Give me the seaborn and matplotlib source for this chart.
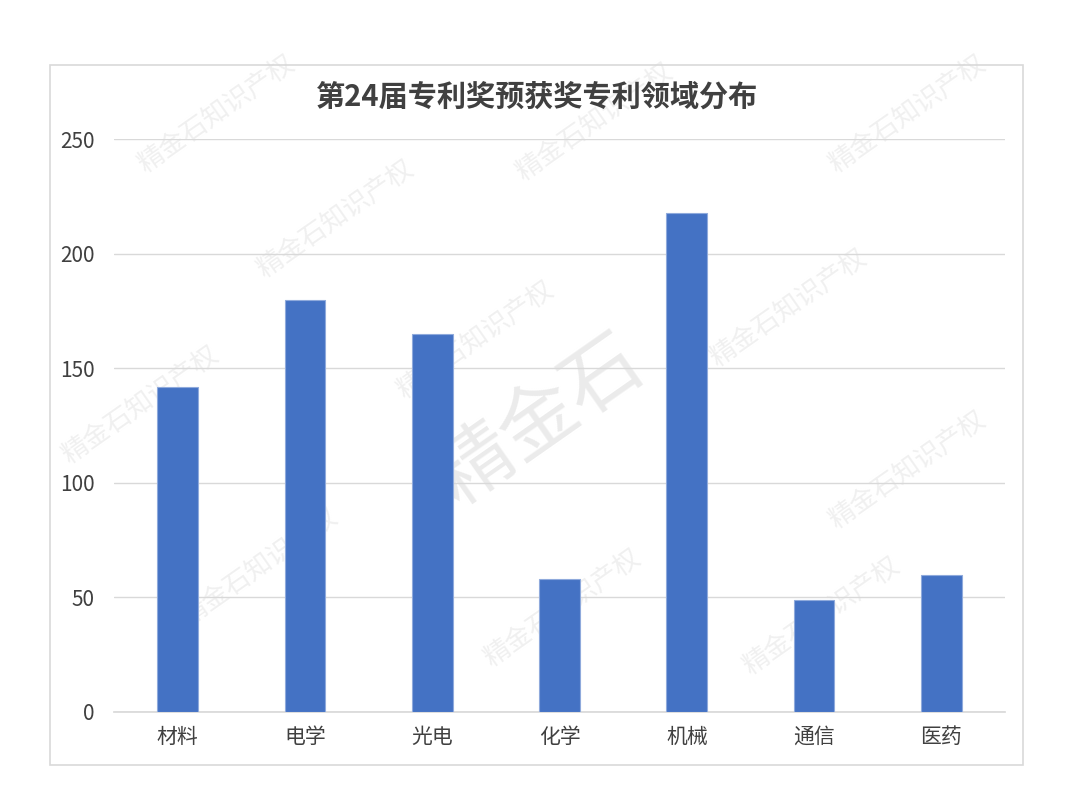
import matplotlib.pyplot as plt
import matplotlib.patches as mpatches
import pandas as pd
import seaborn as sns

# data
categories = ["材料", "电学", "光电", "化学", "机械", "通信", "医药"]
counts = [142, 180, 165, 58, 218, 49, 60]
y_ticks = [0, 50, 100, 150, 200, 250]
title = "第24届专利奖预获奖专利领域分布"
watermark = "精金石知识产权"

df = pd.DataFrame({"领域": categories, "数量": counts})

sns.set_theme(style="white")
plt.rcParams["font.family"] = ["Noto Sans CJK SC", "DejaVu Sans"]

fig = plt.figure(figsize=(10.8, 8.1), dpi=100)
ax = fig.add_axes([0.1056, 0.121, 0.825, 0.707])
ax.set_zorder(2)

# faint watermark text behind the chart
wm_spots = [(0.20, 0.86), (0.55, 0.85), (0.84, 0.86), (0.31, 0.73), (0.73, 0.62),
            (0.13, 0.50), (0.44, 0.58), (0.84, 0.42), (0.24, 0.30), (0.52, 0.25),
            (0.76, 0.24)]
for x, y in wm_spots:
    fig.text(x, y, watermark, rotation=35, fontsize=19, color="#f0f0f0",
             ha="center", va="center", zorder=0)
fig.text(0.50, 0.48, "精金石", rotation=35, fontsize=56, color="#ebebeb",
         ha="center", va="center", zorder=0)

sns.barplot(data=df, x="领域", y="数量", ax=ax,
            color="#4472C4", saturation=1, width=0.32,
            edgecolor="#8FAADC", linewidth=0.8, zorder=3)

ax.set_ylim(0, 250)
ax.set_yticks(y_ticks)
ax.yaxis.grid(True, color="#d9d9d9", linewidth=1)
ax.set_axisbelow(True)
ax.patch.set_alpha(0)
for s in ["top", "right", "left"]:
    ax.spines[s].set_visible(False)
ax.spines["bottom"].set_color("#d9d9d9")
ax.set_xlabel("")
ax.set_ylabel("")
ax.tick_params(axis="y", labelsize=15, labelcolor="#404040", length=0, pad=14)
ax.tick_params(axis="x", labelsize=15, labelcolor="#404040", length=0, pad=10)

fig.text(0.497, 0.881, title, fontsize=21, fontweight="bold", color="#404040",
         ha="center", va="center")

# outer chart border
border = mpatches.Rectangle((50 / 1080, 1 - 765 / 810), 973 / 1080, 700 / 810,
                            transform=fig.transFigure, fill=False,
                            edgecolor="#d9d9d9", linewidth=1.2)
fig.patches.append(border)

fig.savefig("out.png", dpi=100)
